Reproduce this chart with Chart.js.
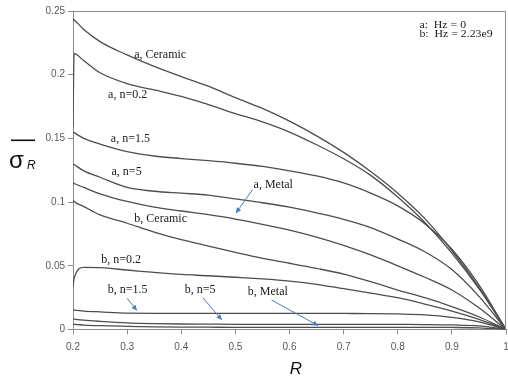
<!DOCTYPE html>
<html><head><meta charset="utf-8">
<script src="https://cdn.jsdelivr.net/npm/chart.js@4.4.1/dist/chart.umd.min.js"></script>
<style>html,body{margin:0;padding:0;background:#fff}#wrap{width:508px;height:378px;position:relative}</style>
</head><body><div id="wrap"><canvas id="c" width="508" height="378"></canvas></div>
<script>
const R = [0.2, 0.202, 0.22, 0.25, 0.3, 0.35, 0.4, 0.45, 0.5, 0.55, 0.6, 0.65, 0.7, 0.75, 0.8, 0.85, 0.9, 0.95, 1.0];
const aCeramic = [0.244, 0.2432, 0.2355, 0.226, 0.2155, 0.2065, 0.1985, 0.191, 0.182, 0.1735, 0.1635, 0.152, 0.139, 0.124, 0.107, 0.087, 0.062, 0.033, 0];
const aN02 = [0.159, 0.2165, 0.211, 0.2015, 0.193, 0.188, 0.183, 0.1765, 0.1695, 0.163, 0.155, 0.145, 0.134, 0.121, 0.104, 0.084, 0.06, 0.032, 0];
const aN15 = [0.155, 0.1545, 0.15, 0.1455, 0.1396, 0.1362, 0.1342, 0.1325, 0.1305, 0.128, 0.1245, 0.1205, 0.115, 0.107, 0.097, 0.083, 0.063, 0.035, 0];
const aN5 = [0.13, 0.1295, 0.1245, 0.1195, 0.1115, 0.1085, 0.107, 0.1055, 0.1025, 0.0995, 0.096, 0.0915, 0.0865, 0.08, 0.071, 0.061, 0.047, 0.026, 0];
const aMetal = [0.115, 0.1146, 0.1115, 0.1065, 0.1005, 0.096, 0.093, 0.0901, 0.0867, 0.0825, 0.078, 0.0725, 0.066, 0.0585, 0.05, 0.041, 0.031, 0.017, 0];
const bCeramic = [0.1016, 0.1005, 0.0965, 0.09, 0.0834, 0.0765, 0.0705, 0.0655, 0.0605, 0.0558, 0.052, 0.048, 0.0435, 0.0375, 0.031, 0.025, 0.018, 0.010, 0];
const bN02 = [0.0336, 0.04, 0.0488, 0.0485, 0.0467, 0.0448, 0.0432, 0.0422, 0.041, 0.0397, 0.038, 0.0355, 0.032, 0.0285, 0.025, 0.020, 0.0145, 0.008, 0];
const bN15 = [0.0153, 0.0152, 0.0145, 0.0138, 0.0128, 0.0127, 0.0127, 0.0127, 0.0127, 0.0127, 0.0127, 0.0127, 0.0126, 0.0125, 0.0122, 0.0115, 0.0095, 0.006, 0];
const bN5 = [0.0082, 0.0081, 0.0073, 0.0064, 0.0052, 0.0046, 0.0043, 0.0042, 0.0041, 0.0041, 0.0041, 0.0041, 0.0041, 0.0041, 0.004, 0.0039, 0.0036, 0.0028, 0];
const bMetal = [0.004, 0.004, 0.0035, 0.003, 0.0025, 0.0021, 0.0019, 0.0018, 0.0017, 0.0017, 0.0017, 0.0017, 0.0017, 0.0017, 0.0017, 0.0017, 0.0016, 0.0012, 0];
const xTickLabels = ['0.2','0.3','0.4','0.5','0.6','0.7','0.8','0.9','1'];
const yTickLabels = ['0','0.05','0.1','0.15','0.2','0.25'];
const seriesNames = ['a, Ceramic','a, n=0.2','a, n=1.5','a, n=5','a, Metal','b, Ceramic','b, n=0.2','b, n=1.5','b, n=5','b, Metal'];
const seriesValues = [aCeramic, aN02, aN15, aN5, aMetal, bCeramic, bN02, bN15, bN5, bMetal];
// curve labels: [text, R, value]
const curveLabels = [
  ['a, Ceramic', 0.361, 0.2155], ['a, n=0.2', 0.301, 0.184], ['a, n=1.5', 0.306, 0.150],
  ['a, n=5', 0.299, 0.1236], ['a, Metal', 0.57, 0.1134], ['b, Ceramic', 0.362, 0.0867],
  ['b, n=0.2', 0.289, 0.0546], ['b, n=1.5', 0.301, 0.031], ['b, n=5', 0.435, 0.031], ['b, Metal', 0.56, 0.0297]
];
// arrows: [R0, v0, R1, v1]
const arrows = [
  [0.5315, 0.1097, 0.501, 0.0913], [0.30, 0.0245, 0.3181, 0.0149],
  [0.4405, 0.0247, 0.475, 0.0075], [0.567, 0.0231, 0.653, 0.003]
];
const legendLines = ['a:  Hz = 0', 'b:  Hz = 2.23e9'];

const datasets = seriesValues.map((vals, k) => ({
  label: seriesNames[k],
  data: R.map((r, i) => ({x: r, y: vals[i]})),
  borderColor: '#4d4d4d', borderWidth: 1.3, pointRadius: 0,
  cubicInterpolationMode: 'monotone', fill: false
}));

const deco = {
  id: 'deco',
  afterDraw(chart) {
    const ctx = chart.ctx, xs = chart.scales.x, ys = chart.scales.y, a = chart.chartArea;
    ctx.save();
    ctx.strokeStyle = '#8c8c8c'; ctx.lineWidth = 1;
    ctx.beginPath();
    ctx.moveTo(a.left, a.top + 0.5); ctx.lineTo(a.right - 0.5, a.top + 0.5); ctx.lineTo(a.right - 0.5, a.bottom);
    ctx.stroke();
    // curve labels
    ctx.fillStyle = '#1a1a1a'; ctx.font = '12px "Liberation Serif"';
    ctx.textAlign = 'center'; ctx.textBaseline = 'middle';
    curveLabels.forEach(([t, r, v]) => ctx.fillText(t, xs.getPixelForValue(r), ys.getPixelForValue(v)));
    // arrows
    ctx.strokeStyle = '#4a7ebb'; ctx.fillStyle = '#4a7ebb'; ctx.lineWidth = 1;
    arrows.forEach(([r0, v0, r1, v1]) => {
      const x0 = xs.getPixelForValue(r0), y0 = ys.getPixelForValue(v0);
      const x1 = xs.getPixelForValue(r1), y1 = ys.getPixelForValue(v1);
      ctx.beginPath(); ctx.moveTo(x0, y0); ctx.lineTo(x1, y1); ctx.stroke();
      const ang = Math.atan2(y1 - y0, x1 - x0), L = 6, W = 0.45;
      ctx.beginPath(); ctx.moveTo(x1, y1);
      ctx.lineTo(x1 - L * Math.cos(ang - W), y1 - L * Math.sin(ang - W));
      ctx.lineTo(x1 - L * Math.cos(ang + W), y1 - L * Math.sin(ang + W));
      ctx.closePath(); ctx.fill();
    });
    // legend text
    ctx.fillStyle = '#1a1a1a'; ctx.font = '10px "Liberation Serif"';
    ctx.textAlign = 'left'; ctx.textBaseline = 'middle';
    const lx = xs.getPixelForValue(0.84), ly = ys.getPixelForValue(0.2386);
    legendLines.forEach((t, i) => {
      ctx.save(); ctx.translate(lx, ly + i * 8.6); ctx.scale(1.18, 1);
      ctx.fillText(t, 0, 0); ctx.restore();
    });
    // y axis title: overline sigma with subscript R
    ctx.fillStyle = '#111';
    ctx.font = '24px "Liberation Sans"'; ctx.textAlign = 'left'; ctx.textBaseline = 'alphabetic';
    ctx.fillText('σ', 9, 168);
    ctx.font = 'italic 12px "Liberation Sans"';
    ctx.fillText('R', 27, 169);
    ctx.fillRect(11, 139.5, 24, 1.6);
    // x axis title
    ctx.font = 'italic 17px "Liberation Sans"'; ctx.textAlign = 'center';
    ctx.fillText('R', 296, 374);
    ctx.restore();
  }
};

new Chart(document.getElementById('c'), {
  type: 'line',
  data: { datasets },
  options: {
    responsive: false, animation: false, events: [],
    layout: { padding: { top: 11, right: 2, left: 0, bottom: 0 } },
    plugins: { legend: { display: false }, tooltip: { enabled: false } },
    scales: {
      x: {
        type: 'linear', min: 0.2, max: 1.0,
        grid: { drawOnChartArea: false, color: '#8c8c8c', tickLength: 5 },
        border: { color: '#8c8c8c' },
        ticks: { stepSize: 0.1, color: '#595959', font: { family: 'Liberation Sans', size: 10 }, padding: 7, maxRotation: 0,
          callback: (v, i) => xTickLabels[i] },
        afterFit(s) { s.height = 48.5; s.paddingLeft = 0; s.paddingRight = 0; }
      },
      y: {
        min: 0, max: 0.25,
        grid: { drawOnChartArea: false, color: '#8c8c8c', tickLength: 5 },
        border: { color: '#8c8c8c' },
        ticks: { stepSize: 0.05, color: '#595959', font: { family: 'Liberation Sans', size: 10 }, padding: 3,
          callback: (v, i) => yTickLabels[i] },
        afterFit(s) { s.width = 73; s.paddingTop = 0; s.paddingBottom = 0; }
      }
    }
  },
  plugins: [deco]
});
</script></body></html>
